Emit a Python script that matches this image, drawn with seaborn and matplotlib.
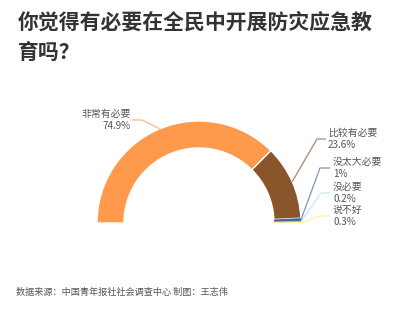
import numpy as np
import matplotlib
matplotlib.use('Agg')
import matplotlib.pyplot as plt
import seaborn as sns

# ---- data ----
categories = ['非常有必要', '比较有必要', '没太大必要', '没必要', '说不好']
values = [74.9, 23.6, 1.0, 0.2, 0.3]
value_labels = ['74.9%', '23.6%', '1%', '0.2%', '0.3%']
colors = ['#FF9A4C', '#8A5528', '#4A66A0', '#A8DCF5', '#FFE58A']
title_lines = ['你觉得有必要在全民中开展防灾应急教', '育吗？']
source_text = '数据来源：中国青年报社社会调查中心 制图：王志伟'

sns.set_theme(style='white')
plt.rcParams['font.family'] = ['Noto Sans CJK SC', 'DejaVu Sans']

W_PX, H_PX = 400, 313
fig = plt.figure(figsize=(W_PX / 100, H_PX / 100), dpi=100)
ax = fig.add_axes([0, 0, 1, 1])


def Y(py):
    return H_PX - py


cx, cy, R, RW = 199, Y(223), 102, 27
total = sum(values)
wedges, _ = ax.pie(values + [total], colors=colors + ['none'], startangle=180,
                   counterclock=False, radius=R, center=(cx, cy),
                   wedgeprops=dict(width=RW, linewidth=0))
wedges[-1].set_visible(False)
for w in wedges[:2]:
    w.set_edgecolor('white')
    w.set_linewidth(1.0)

ax.set_xlim(0, W_PX)
ax.set_ylim(0, H_PX)
ax.set_aspect('auto')
ax.axis('off')

# label layout: (text x, line y, elbow x, horizontal end x, ha)
layout = [
    (131, 120, 142, 132, 'right'),
    (328, 139, 317, 326, 'left'),
    (333, 168, 320, 330, 'left'),
    (333, 193, 321, 330, 'left'),
    (333, 216, 320, 330, 'left'),
]

for w, cat, vl, col, (tx, ly, ex, hx, ha) in zip(wedges, categories, value_labels, colors, layout):
    mid = np.deg2rad((w.theta1 + w.theta2) / 2)
    px, py = cx + R * np.cos(mid), cy + R * np.sin(mid)
    ax.plot([px, ex, hx], [py, Y(ly), Y(ly)], color=col, alpha=0.7, lw=0.9,
            solid_capstyle='butt')
    ax.text(tx, Y(ly), f'{cat}\n{vl}', ha=ha, va='center', fontsize=7.1,
            color='#555555', linespacing=1.25, multialignment=ha)

ax.text(18, Y(22), title_lines[0], ha='left', va='center', fontsize=15,
        fontweight='bold', color='#333333')
ax.text(18, Y(52), title_lines[1], ha='left', va='center', fontsize=15,
        fontweight='bold', color='#333333')
ax.text(16, Y(292), source_text, ha='left', va='center', fontsize=6.6, color='#555555')

fig.savefig('out.png', dpi=100, facecolor='white')
